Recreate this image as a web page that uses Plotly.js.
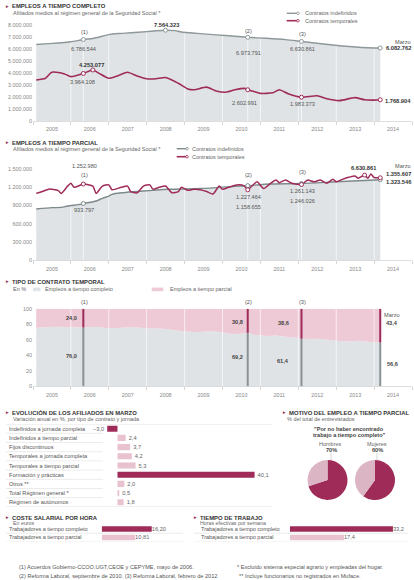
<!DOCTYPE html>
<html><head><meta charset="utf-8">
<script src="https://cdn.plot.ly/plotly-3.0.1.min.js"></script>
<style>html,body{margin:0;padding:0;background:#fff}#chart{width:414px;height:580px}</style>
</head><body><div id="chart"></div>
<script>
// ---------- DATA ----------
const ftIndDates = ['2005-02','2005-06','2005-10','2006-01','2006-05','2006-08','2006-10','2007-01','2007-04','2007-08','2008-01','2008-04','2008-07','2008-10','2008-12','2009-05','2009-11','2010-05','2010-09','2011-03','2011-09','2012-02','2012-09','2013-03','2013-09','2014-03'];
const ftIndVals = [6380000,6450000,6520000,6600000,6786544,6880000,7000000,7200000,7290000,7350000,7450000,7520000,7564323,7530000,7420000,7300000,7180000,7060000,6973791,6890000,6780000,6630861,6420000,6250000,6130000,6082762];

const ftTempDates = ['2005-02','2005-05','2005-07','2005-11','2006-01','2006-05','2006-08','2006-10','2007-01','2007-04','2007-07','2007-10','2008-01','2008-04','2008-07','2008-11','2009-02','2009-04','2009-08','2009-11','2010-02','2010-05','2010-08','2010-09','2010-11','2011-01','2011-05','2011-07','2011-10','2012-02','2012-07','2012-10','2013-02','2013-07','2013-10','2014-01','2014-03'];
const ftTempVals = [3420000,3560000,4060000,3920000,3700000,3964108,4253077,3970000,3560000,3780000,4060000,3750000,3520000,3520000,3620000,3140000,2670000,2600000,2820000,2500000,2400000,2600000,2720000,2602991,2450000,2300000,2350000,2600000,2250000,1983373,2100000,1850000,1700000,1950000,1770000,1740000,1768904];

const ptIndDates = ['2005-02','2005-07','2005-10','2005-12','2006-04','2006-05','2006-09','2006-11','2007-01','2007-02','2007-05','2007-09','2008-03','2008-08','2009-06','2010-05','2010-09','2011-04','2012-02','2013-01','2014-03'];
const ptIndVals = [844000,866000,870000,893000,920000,933797,975000,1020000,1057000,1085000,1110000,1128000,1150000,1167000,1180000,1215000,1227464,1254000,1261143,1290000,1323546];

const ptTempDates = ['2005-02','2005-04','2005-06','2005-09','2005-10','2005-12','2006-01','2006-02','2006-05','2006-08','2006-09','2006-11','2007-01','2007-02','2007-05','2007-07','2007-08','2007-10','2007-12','2008-02','2008-03','2008-05','2008-07','2008-09','2008-11','2008-12','2009-02','2009-04','2009-06','2009-08','2009-10','2009-12','2010-01','2010-03','2010-06','2010-08','2010-09','2010-11','2010-12','2011-02','2011-04','2011-06','2011-07','2011-09','2011-11','2012-02','2012-04','2012-06','2012-08','2012-10','2012-12','2013-01','2013-03','2013-05','2013-07','2013-08','2013-10','2013-11','2013-12','2014-01','2014-03'];
const ptTempVals = [1100000,1130000,1170000,1145000,1100000,1220000,1265000,1200000,1252980,1220000,1100000,1220000,1240000,1160000,1200000,1220000,1130000,1110000,1220000,1240000,1170000,1200000,1220000,1110000,1130000,1200000,1150000,1167000,1160000,1130000,1090000,1220000,1167000,1200000,1240000,1220000,1158655,1254000,1290000,1180000,1254000,1320000,1275000,1320000,1266000,1246026,1320000,1290000,1320000,1266000,1330000,1290000,1330000,1364000,1385000,1347000,1400000,1347000,1418000,1360000,1355607];
const ptPeakLabel = '6.630.861';

const pctDates = ['2005-02','2005-06','2005-09','2006-01','2006-05','2006-09','2007-01','2007-05','2007-08','2008-01','2008-05','2008-08','2008-11','2009-02','2009-06','2009-10','2010-01','2010-04','2010-07','2010-09','2010-11','2011-03','2011-06','2011-09','2011-12','2012-02','2012-05','2012-08','2012-11','2013-02','2013-05','2013-08','2013-11','2014-03'];
const fullPct = [75.5,76.5,77.0,76.2,76.0,77.0,75.0,75.5,76.5,75.0,74.8,73.8,71.8,70.5,70.0,71.5,69.5,67.5,68.0,69.2,66.5,65.0,65.5,64.0,63.0,61.4,61.0,61.5,60.0,58.5,58.0,59.0,57.5,56.6];
const partPct = fullPct.map(v => +(100 - v).toFixed(1));

const eventDates = ['2006-05','2010-09','2012-02'];
const eventTags = ['(1)','(2)','(3)'];
const lastDate = '2014-03';
const yearStarts = ['2006-01','2007-01','2008-01','2009-01','2010-01','2011-01','2012-01','2013-01','2014-01'];

const afilCats = ['Indefinidos a jornada completa','Indefinidos a tiempo parcial','Fijos discontinuos','Temporales a jornada completa','Temporales a tiempo parcial','Formación y prácticas','Otros **','Total Régimen general *','Régimen de autónomos'];
const afilVals = [-3.0,2.4,3.7,4.2,5.3,40.1,2.0,0.5,1.8];

const trabCats = ['Trabajadores a tiempo completo','Trabajadores a tiempo parcial'];
const costeVals = [16.20,10.81];
const horasVals = [33.2,17.4];

const pieLabels = ['Por no haber encontrado trabajo a tiempo completo','Otros motivos'];
const hombresVals = [70,30];
const mujeresVals = [60,40];

// ---------- STYLE ----------
const W=414,H=580;
const PX=x=>x/W, PY=y=>1-y/H;
const CRIMSON='#9e2b58', PINK='#edcad5', LPINK='#e8c2cf', PIEL='#dcb5c5', GFILL='#dfe3e5', GLINE='#8e979a', GLINE2='#7d898b';
const FONT='"Liberation Sans", Arial, sans-serif';
const fmtInt=n=>String(Math.round(n)).replace(/\B(?=(\d{3})+(?!\d))/g,'.');
const fmtDec=(v,d)=>(v<0?'\u2212':'')+Math.abs(v).toFixed(d).replace('.',',');
const valAt=(ds,vs,d)=>vs[ds.indexOf(d)];

const traces=[], shapes=[], ann=[];
function A(text,x,y,xa,size,color){ann.push({text:text,x:PX(x),y:PY(y),xref:'paper',yref:'paper',showarrow:false,xanchor:xa||'center',yanchor:'middle',font:{family:FONT,size:size||5.6,color:color||'#555'}});}
function L(x0,y0,x1,y1,color,w){shapes.push({type:'line',xref:'paper',yref:'paper',x0:PX(x0),y0:PY(y0),x1:PX(x1),y1:PY(y1),line:{color:color,width:w}});}
function R(x0,y0,x1,y1,color){shapes.push({type:'rect',xref:'paper',yref:'paper',x0:PX(x0),y0:PY(y0),x1:PX(x1),y1:PY(y1),fillcolor:color,line:{width:0}});}
function C(x,y,r,color){shapes.push({type:'circle',xref:'paper',yref:'paper',x0:PX(x-r),x1:PX(x+r),y0:PY(y+r),y1:PY(y-r),fillcolor:'#fff',line:{color:color,width:0.8}});}
function title(text,x,y){A('►',x,y,'left',4.6,CRIMSON);A('<b>'+text+'</b>',x+7,y,'left',5.9,'#333');}

function vlines(dates,top,xa,ya){const xs=[],ys=[];dates.forEach(d=>{xs.push(d,d,null);ys.push(0,top,null);});
  return {type:'scatter',mode:'lines',x:xs,y:ys,xaxis:xa,yaxis:ya,line:{color:'rgba(255,255,255,0.95)',width:0.7},hoverinfo:'skip',showlegend:false};}
function line(ds,vs,xa,ya,color,w){return {type:'scatter',mode:'lines',x:ds,y:vs,xaxis:xa,yaxis:ya,line:{color:color,width:w,shape:'spline',smoothing:0.6},hoverinfo:'skip',showlegend:false};}
function marks(ds,vs,pick,xa,ya,color){return {type:'scatter',mode:'markers',x:pick,y:pick.map(d=>valAt(ds,vs,d)),xaxis:xa,yaxis:ya,marker:{size:4,color:'#fff',line:{color:color,width:1}},hoverinfo:'skip',showlegend:false};}
function fillT(ds,vs,xa,ya){return {type:'scatter',mode:'none',x:ds,y:vs,xaxis:xa,yaxis:ya,fill:'tozeroy',fillcolor:GFILL,hoverinfo:'skip',showlegend:false};}

// ---------- CHART 1 ----------
traces.push(fillT(ftIndDates,ftIndVals,'x','y'));
traces.push(vlines(yearStarts.concat(eventDates),8e6,'x','y'));
traces.push(line(ftIndDates,ftIndVals,'x','y',GLINE,1.4));
traces.push(line(ftTempDates,ftTempVals,'x','y',CRIMSON,1.6));
traces.push(marks(ftIndDates,ftIndVals,eventDates.concat(['2008-07',lastDate]),'x','y',GLINE));
traces.push(marks(ftTempDates,ftTempVals,eventDates.concat(['2006-08',lastDate]),'x','y',CRIMSON));

// ---------- CHART 2 ----------
traces.push(fillT(ptIndDates,ptIndVals,'x2','y2'));
traces.push(vlines(yearStarts.concat(eventDates),1.5e6,'x2','y2'));
traces.push(line(ptIndDates,ptIndVals,'x2','y2',GLINE2,1.4));
traces.push(line(ptTempDates,ptTempVals,'x2','y2',CRIMSON,1.5));
traces.push(marks(ptIndDates,ptIndVals,eventDates.concat([lastDate]),'x2','y2',GLINE2));
traces.push(marks(ptTempDates,ptTempVals,eventDates.concat(['2013-10',lastDate]),'x2','y2',CRIMSON));

// ---------- CHART 3 ----------
traces.push({type:'scatter',mode:'none',x:pctDates,y:fullPct,xaxis:'x3',yaxis:'y3',stackgroup:'p',fillcolor:GFILL,hoverinfo:'skip',showlegend:false});
traces.push({type:'scatter',mode:'none',x:pctDates,y:partPct,xaxis:'x3',yaxis:'y3',stackgroup:'p',fillcolor:PINK,hoverinfo:'skip',showlegend:false});
traces.push(vlines(yearStarts,100,'x3','y3'));
eventDates.concat([lastDate]).forEach(d=>{
  const v=valAt(pctDates,fullPct,d);
  traces.push({type:'scatter',mode:'lines',x:[d,d],y:[0,v],xaxis:'x3',yaxis:'y3',line:{color:'#8a9295',width:2},hoverinfo:'skip',showlegend:false});
  traces.push({type:'scatter',mode:'lines',x:[d,d],y:[v,100],xaxis:'x3',yaxis:'y3',line:{color:CRIMSON,width:2},hoverinfo:'skip',showlegend:false});
});

// ---------- BARS ----------
const afilColors = afilVals.map((v,i)=> (v<0 || i===5) ? CRIMSON : LPINK);
traces.push({type:'bar',orientation:'h',x:afilVals,y:afilCats,xaxis:'x4',yaxis:'y4',marker:{color:afilColors},
  text:afilVals.map(v=>fmtDec(v,1)),textposition:'outside',cliponaxis:false,constraintext:'none',
  textfont:{family:FONT,size:5.7,color:'#666'},hoverinfo:'skip',showlegend:false});
traces.push({type:'bar',orientation:'h',x:costeVals,y:trabCats,xaxis:'x6',yaxis:'y6',marker:{color:[CRIMSON,LPINK]},
  text:costeVals.map(v=>fmtDec(v,2)),textposition:'outside',cliponaxis:false,constraintext:'none',
  textfont:{family:FONT,size:5.7,color:'#666'},hoverinfo:'skip',showlegend:false});
traces.push({type:'bar',orientation:'h',x:horasVals,y:trabCats,xaxis:'x7',yaxis:'y7',marker:{color:[CRIMSON,LPINK]},
  text:horasVals.map(v=>fmtDec(v,1)),textposition:'outside',cliponaxis:false,constraintext:'none',
  textfont:{family:FONT,size:5.7,color:'#666'},hoverinfo:'skip',showlegend:false});

// ---------- PIES ----------
[[hombresVals,307.5,347.5],[mujeresVals,355,395]].forEach(p=>{
  traces.push({type:'pie',values:p[0],labels:pieLabels,sort:false,direction:'clockwise',rotation:0,textinfo:'none',hoverinfo:'none',showlegend:false,
    marker:{colors:[CRIMSON,PIEL],line:{width:0}},domain:{x:[PX(p[1]),PX(p[2])],y:[PY(500),PY(460)]}});
});

// ---------- AXES ----------
const tickF={family:FONT,size:5.4,color:'#888'};
function tAxis(anchor){return {domain:[PX(33),PX(412)],anchor:anchor,type:'date',range:['2005-01-01','2015-01-01'],tick0:'2005-01-01',dtick:'M12',
  ticklabelmode:'period',tickformat:'%Y',ticks:'outside',ticklen:3,tickwidth:0.6,tickcolor:'#bbb',showline:true,linecolor:'#c8c8c8',linewidth:0.6,
  showgrid:false,zeroline:false,tickfont:tickF,fixedrange:true};}
function vAxis(anchor,dom,range,dtick){return {domain:dom,anchor:anchor,range:range,tick0:0,dtick:dtick,tickformat:',d',showgrid:false,zeroline:false,
  showline:false,ticks:'',tickfont:tickF,fixedrange:true};}
const hid={visible:false,showgrid:false,zeroline:false,fixedrange:true};
const rowDom=[PY(541.6),PY(524.8)];

const layout={width:W,height:H,margin:{l:0,r:0,t:0,b:0},paper_bgcolor:'#fff',plot_bgcolor:'rgba(0,0,0,0)',showlegend:false,hovermode:false,
  separators:',.',font:{family:FONT,size:5.6,color:'#555'},bargap:0.34,
  xaxis:tAxis('y'), yaxis:vAxis('x',[PY(121),PY(25)],[0,8e6],1e6),
  xaxis2:tAxis('y2'), yaxis2:vAxis('x2',[PY(260.5),PY(169)],[0,1.5e6],3e5),
  xaxis3:tAxis('y3'), yaxis3:vAxis('x3',[PY(386.5),PY(308.8)],[0,100],20),
  xaxis4:Object.assign({domain:[PX(103.8),PX(261.1)],anchor:'y4',range:[-4,42]},hid),
  yaxis4:Object.assign({domain:[PY(506.9),PY(424.1)],anchor:'x4',type:'category',range:[8.5,-0.5]},hid),
  xaxis6:Object.assign({domain:[PX(101.7),PX(163.5)],anchor:'y6',range:[0,20]},hid),
  yaxis6:Object.assign({domain:rowDom,anchor:'x6',type:'category',range:[1.5,-0.5]},hid),
  xaxis7:Object.assign({domain:[PX(290),PX(414)],anchor:'y7',range:[0,40]},hid),
  yaxis7:Object.assign({domain:rowDom,anchor:'x7',type:'category',range:[1.5,-0.5]},hid),
  shapes:shapes, annotations:ann};

// ---------- TEXTS / DECOR ----------
// Section 1
title('EMPLEOS A TIEMPO COMPLETO',2.5,6);
A('Afiliados medios al régimen general de la Seguridad Social *',10.5,12.5,'left',5.5,'#666');
L(286.7,13.3,298,13.3,GLINE,1.4); C(298,13.3,1.3,GLINE); A('Contratos indefinidos',302.5,13.3,'left',5.5,'#666');
L(286.7,20.7,298,20.7,CRIMSON,1.6); C(298,20.7,1.3,CRIMSON); A('Contratos temporales',302.5,20.7,'left',5.5,'#666');
A(eventTags[0],84,32.3); A(eventTags[1],248,30.7); A(eventTags[2],302,34);
A(fmtInt(valAt(ftIndDates,ftIndVals,eventDates[0])),83.5,49);
A('<b>'+fmtInt(valAt(ftIndDates,ftIndVals,'2008-07'))+'</b>',166.7,25,'center',5.7,'#333');
A('<b>'+fmtInt(valAt(ftTempDates,ftTempVals,'2006-08'))+'</b>',91.7,65,'center',5.7,'#333');
A(fmtInt(valAt(ftTempDates,ftTempVals,eventDates[0])),82,81.7);
A(fmtInt(valAt(ftIndDates,ftIndVals,eventDates[1])),248,53);
A(fmtInt(valAt(ftTempDates,ftTempVals,eventDates[1])),245,103.3);
A(fmtInt(valAt(ftIndDates,ftIndVals,eventDates[2])),302,49.3);
A(fmtInt(valAt(ftTempDates,ftTempVals,eventDates[2])),302,104);
A('Marzo',413,41.7,'right');
A('<b>'+fmtInt(valAt(ftIndDates,ftIndVals,lastDate))+'</b>',413,48.3,'right',5.7,'#333');
A('<b>'+fmtInt(valAt(ftTempDates,ftTempVals,lastDate))+'</b>',413,101,'right',5.7,'#333');

// Section 2
title('EMPLEOS A TIEMPO PARCIAL',2.5,142.7);
A('Afiliados medios al régimen general de la Seguridad Social *',10.5,149,'left',5.5,'#666');
L(176.7,148.7,187,148.7,GLINE2,1.4); C(187,148.7,1.3,GLINE2); A('Contratos indefinidos',190,148.7,'left',5.5,'#666');
L(176.7,156.7,187,156.7,CRIMSON,1.6); C(187,156.7,1.3,CRIMSON); A('Contratos temporales',190,156.7,'left',5.5,'#666');
A(fmtInt(valAt(ptTempDates,ptTempVals,eventDates[0])),84,165.7);
A(eventTags[0],84,175.3);
A(fmtInt(valAt(ptIndDates,ptIndVals,eventDates[0])),84,209.7);
A(eventTags[1],248,175.3);
A(fmtInt(valAt(ptIndDates,ptIndVals,eventDates[1])),248,196.5);
A(fmtInt(valAt(ptTempDates,ptTempVals,eventDates[1])),248,207.3);
A(eventTags[2],302,171.7);
A(fmtInt(valAt(ptIndDates,ptIndVals,eventDates[2])),302,191);
A(fmtInt(valAt(ptTempDates,ptTempVals,eventDates[2])),302,201.3);
A('<b>'+ptPeakLabel+'</b>',363.3,168.3,'center',5.7,'#333');
A('Marzo',413,166,'right');
A('<b>'+fmtInt(valAt(ptTempDates,ptTempVals,lastDate))+'</b>',413,174,'right',5.7,'#333');
A('<b>'+fmtInt(valAt(ptIndDates,ptIndVals,lastDate))+'</b>',413,181.7,'right',5.7,'#333');

// Section 3
title('TIPO DE CONTRATO TEMPORAL',2.5,281.7);
A('En %',10.5,289.3,'left',5.5,'#666');
R(33,287.6,40.5,291.2,GFILL); A('Empleos a tiempo completo',43.3,289.3,'left',5.5,'#666');
R(151.7,287.6,163.3,291.2,PINK); A('Empleos a tiempo parcial',168.3,289.3,'left',5.5,'#666');
A(eventTags[0],84,301.7); A(eventTags[1],248,301.7); A(eventTags[2],302,301.7);
const pLab=[[71,318.3,356],[237.7,321.7,357.3],[283.3,323.3,360.7]];
eventDates.forEach((d,i)=>{
  A('<b>'+fmtDec(valAt(pctDates,partPct,d),1)+'</b>',pLab[i][0],pLab[i][1],'center',5.6,'#444');
  A('<b>'+fmtDec(valAt(pctDates,fullPct,d),1)+'</b>',pLab[i][0],pLab[i][2],'center',5.6,'#444');
});
A('Marzo',402,315,'right');
A('<b>'+fmtDec(valAt(pctDates,partPct,lastDate),1)+'</b>',400,323.3,'right',5.6,'#444');
A('<b>'+fmtDec(valAt(pctDates,fullPct,lastDate),1)+'</b>',400,364,'right',5.6,'#444');

// Section 4
title('EVOLUCIÓN DE LOS AFILIADOS EN MARZO',2.5,412.7);
A('Variación anual en %, por tipo de contrato y jornada',10.5,419.3,'left',5.5,'#666');
afilCats.forEach((c,i)=>{
  ann.push({text:c,x:PX(7),y:c,xref:'paper',yref:'y4',showarrow:false,xanchor:'left',yanchor:'middle',font:{family:FONT,size:5.6,color:'#555'}});
  if(i<afilCats.length-1) shapes.push({type:'line',xref:'paper',yref:'y4',x0:PX(6),x1:PX(103),y0:i+0.5,y1:i+0.5,line:{color:'#dedede',width:0.6}});
});
shapes.push({type:'line',xref:'paper',yref:'y4',x0:PX(6),x1:PX(272),y0:-0.5,y1:-0.5,line:{color:'#d6d6d6',width:0.6}});
shapes.push({type:'line',xref:'paper',yref:'y4',x0:PX(6),x1:PX(272),y0:8.5,y1:8.5,line:{color:'#d6d6d6',width:0.6}});

// Section 5
title('MOTIVO DEL EMPLEO A TIEMPO PARCIAL',280,412.7);
A('% del total de entrevistados',285,419.3,'left',5.5,'#666');
A('<b>"Por no haber encontrado</b>',349,429,'center',5.6,'#444');
A('<b>trabajo a tiempo completo"</b>',349,435,'center',5.6,'#444');
A('Hombres',330,444.5,'center',5.5,'#666'); A('<b>'+hombresVals[0]+'%</b>',331,450,'center',5.6,'#444');
A('Mujeres',377,444.5,'center',5.5,'#666'); A('<b>'+mujeresVals[0]+'%</b>',377,450,'center',5.6,'#444');
L(331,453,331,460,'#aaa',0.5); L(377,453,377,460,'#aaa',0.5);

// Section 6 & 7
title('COSTE SALARIAL POR HORA',2.5,517.8);
A('En euros',10.5,522.6,'left',5.3,'#666');
title('TIEMPO DE TRABAJO',191,517.8);
A('Horas efectivas por semana',198,522.6,'left',5.3,'#666');
trabCats.forEach((c,i)=>{
  ann.push({text:c,x:PX(7),y:c,xref:'paper',yref:'y6',showarrow:false,xanchor:'left',yanchor:'middle',font:{family:FONT,size:5.5,color:'#555'}});
  ann.push({text:c,x:PX(199),y:c,xref:'paper',yref:'y7',showarrow:false,xanchor:'left',yanchor:'middle',font:{family:FONT,size:5.5,color:'#555'}});
});
[0.5,1.5].forEach(v=>{
  shapes.push({type:'line',xref:'paper',yref:'y6',x0:PX(6),x1:PX(183),y0:v,y1:v,line:{color:'#dedede',width:0.6}});
  shapes.push({type:'line',xref:'paper',yref:'y7',x0:PX(194),x1:PX(408),y0:v,y1:v,line:{color:'#dedede',width:0.6}});
});

// Footnotes
A('(1) Acuerdos Gobierno-CCOO,UGT,CEOE y CEPYME, mayo de 2006.',16.5,567.2,'left',5.6,'#555');
A('(2) Reforma Laboral, septiembre de 2010. (3) Reforma Laboral, febrero de 2012',16.5,575.5,'left',5.6,'#555');
A('* Excluido sistema especial agrario y empleadas del hogar.',235,567.2,'left',5.6,'#555');
A('** Incluye funcionarios no registrados en Muface.',236.5,575.5,'left',5.6,'#555');

Plotly.newPlot('chart',traces,layout,{staticPlot:true,displayModeBar:false});
</script></body></html>
